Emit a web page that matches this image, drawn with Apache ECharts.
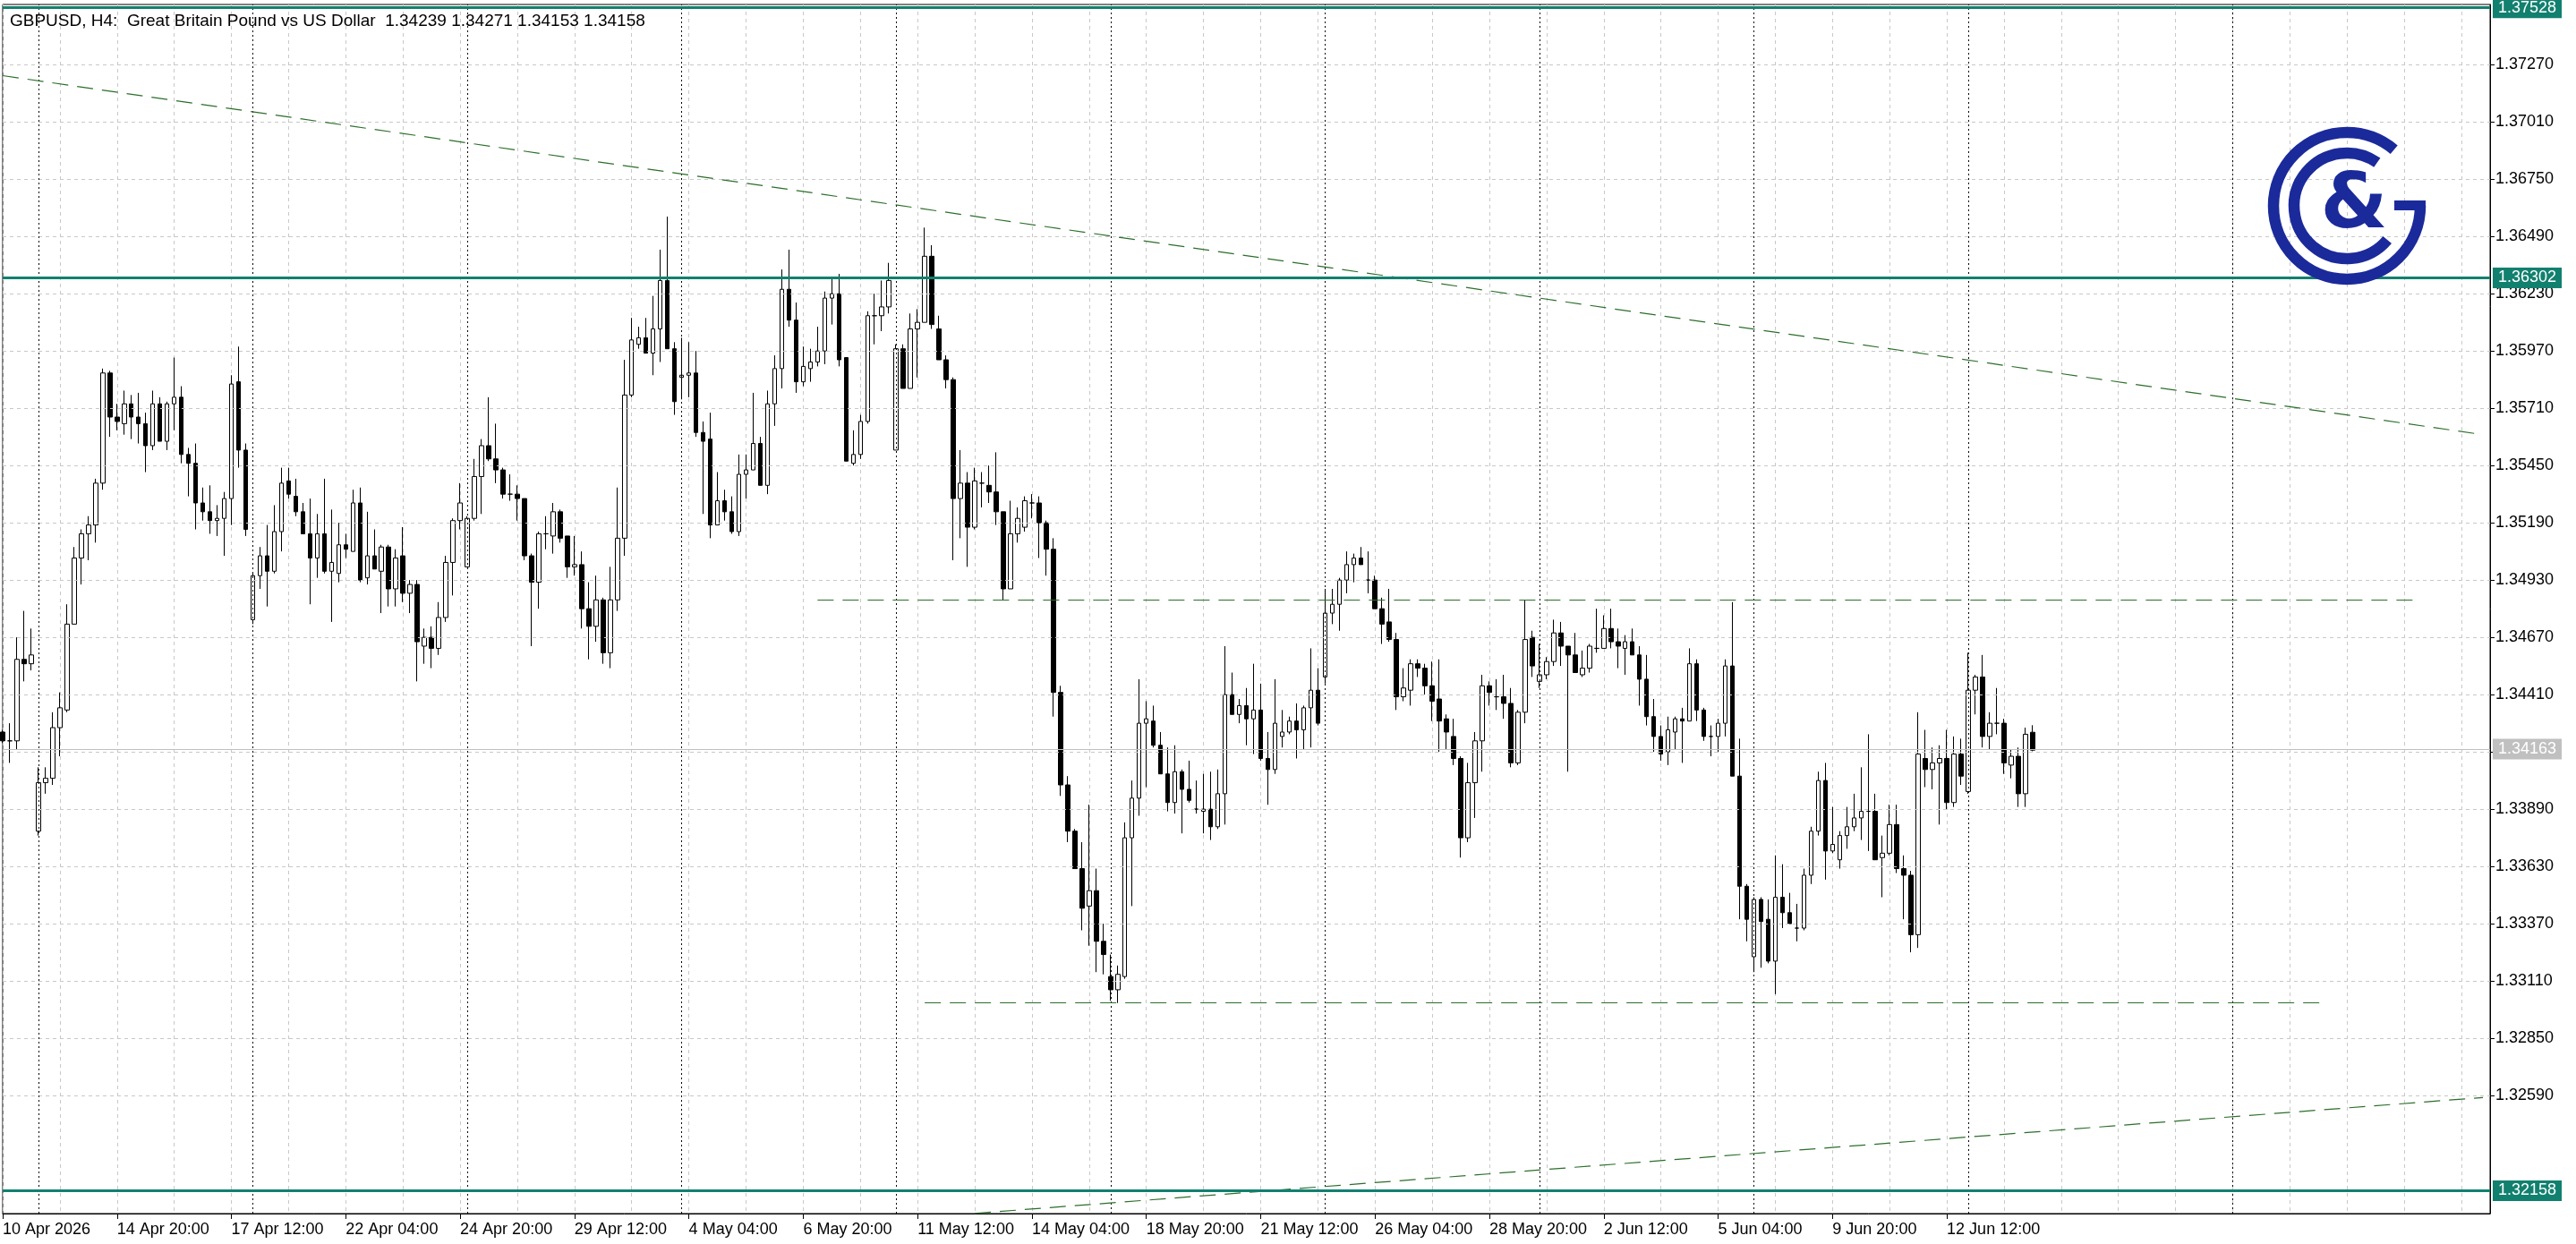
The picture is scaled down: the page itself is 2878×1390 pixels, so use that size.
<!DOCTYPE html>
<html><head><meta charset="utf-8">
<script src="https://cdn.jsdelivr.net/npm/echarts@6/dist/echarts.min.js"></script>
<style>html,body{margin:0;padding:0;background:#fff}#c{width:2878px;height:1390px}</style>
</head><body><div id="c"></div>
<script>
const titleText = 'GBPUSD, H4:  Great Britain Pound vs US Dollar  1.34239 1.34271 1.34153 1.34158';
const tickLabels = ['10 Apr 2026','14 Apr 20:00','17 Apr 12:00','22 Apr 04:00','24 Apr 20:00','29 Apr 12:00','4 May 04:00','6 May 20:00','11 May 12:00','14 May 04:00','18 May 20:00','21 May 12:00','26 May 04:00','28 May 20:00','2 Jun 12:00','5 Jun 04:00','9 Jun 20:00','12 Jun 12:00'];
const priceTicks = [1.32590,1.32850,1.33110,1.33370,1.33630,1.33890,1.34150,1.34410,1.34670,1.34930,1.35190,1.35450,1.35710,1.35970,1.36230,1.36490,1.36750,1.37010,1.37270];
const levels = [1.37528, 1.36302, 1.32158];
const currentPrice = 1.34163;
const weekStarts = [5,35,65,95,125,155,185,215,245,275,312];
const barSlots = 349;

const opens = [1.3424,1.3420,1.3420,1.3457,1.3455,1.3379,1.3401,1.3403,1.3426,1.3434,
1.3473,1.3503,1.3514,1.3518,1.3537,1.3587,1.3567,1.3564,1.3573,1.3567,
1.3564,1.3554,1.3573,1.3556,1.3573,1.3576,1.3550,1.3546,1.3528,1.3524,
1.3520,1.3521,1.3530,1.3583,1.3552,1.3475,1.3495,1.3504,1.3497,1.3515,
1.3538,1.3531,1.3524,1.3514,1.3503,1.3514,1.3497,1.3496,1.3509,1.3506,
1.3528,1.3494,1.3504,1.3497,1.3508,1.3489,1.3504,1.3487,1.3491,1.3463,
1.3467,1.3462,1.3476,1.3501,1.3520,1.3499,1.3521,1.3540,1.3554,1.3548,
1.3543,1.3532,1.3532,1.3530,1.3504,1.3492,1.3514,1.3513,1.3524,1.3513,
1.3499,1.3500,1.3480,1.3472,1.3484,1.3460,1.3484,1.3512,1.3577,1.3600,
1.3603,1.3596,1.3607,1.3629,1.3598,1.3585,1.3586,1.3587,1.3560,1.3557,
1.3518,1.3529,1.3524,1.3515,1.3541,1.3543,1.3555,1.3536,1.3573,1.3589,
1.3625,1.3611,1.3583,1.3589,1.3592,1.3597,1.3621,1.3623,1.3594,1.3546,
1.3550,1.3565,1.3613,1.3613,1.3617,1.3552,1.3598,1.3580,1.3607,1.3610,
1.3640,1.3607,1.3593,1.3584,1.3530,1.3537,1.3517,1.3537,1.3536,1.3533,
1.3524,1.3489,1.3514,1.3517,1.3528,1.3528,1.3519,1.3507,1.3442,1.3400,
1.3379,1.3362,1.3345,1.3352,1.3329,1.3313,1.3307,1.3313,1.3376,1.3394,
1.3428,1.3429,1.3418,1.3405,1.3392,1.3406,1.3398,1.3389,1.3388,1.3389,
1.3381,1.3396,1.3441,1.3432,1.3436,1.3430,1.3434,1.3412,1.3407,1.3422,
1.3424,1.3429,1.3425,1.3435,1.3443,1.3449,1.3478,1.3482,1.3493,1.3500,
1.3503,1.3493,1.3493,1.3480,1.3474,1.3466,1.3440,1.3443,1.3455,1.3453,
1.3445,1.3439,1.3430,1.3422,1.3412,1.3376,1.3401,1.3420,1.3445,1.3440,
1.3440,1.3437,1.3410,1.3433,1.3467,1.3447,1.3450,1.3456,1.3469,1.3463,
1.3459,1.3450,1.3453,1.3462,1.3462,1.3471,1.3465,1.3462,1.3465,1.3459,
1.3448,1.3431,1.3422,1.3415,1.3424,1.3430,1.3429,1.3455,1.3434,1.3422,
1.3422,1.3428,1.3454,1.3404,1.3354,1.3322,1.3348,1.3339,1.3320,1.3349,
1.3342,1.3335,1.3335,1.3359,1.3379,1.3402,1.3370,1.3366,1.3377,1.3381,
1.3385,1.3388,1.3388,1.3367,1.3369,1.3382,1.3362,1.3359,1.3332,1.3412,
1.3407,1.3410,1.3412,1.3392,1.3414,1.3397,1.3443,1.3449,1.3422,1.3428,
1.3428,1.3409,1.3413,1.3396,1.34239];

const closes = [1.3420,1.3420,1.3457,1.3455,1.3459,1.3401,1.3403,1.3426,1.3435,1.3473,
1.3503,1.3514,1.3518,1.3537,1.3587,1.3567,1.3565,1.3573,1.3567,1.3564,
1.3554,1.3573,1.3556,1.3573,1.3576,1.3550,1.3546,1.3528,1.3524,1.3520,
1.3521,1.3530,1.3582,1.3552,1.3516,1.3495,1.3504,1.3497,1.3515,1.3537,
1.3532,1.3524,1.3514,1.3503,1.3514,1.3497,1.3501,1.3509,1.3507,1.3528,
1.3493,1.3504,1.3498,1.3508,1.3489,1.3503,1.3487,1.3491,1.3465,1.3467,
1.3462,1.3476,1.3501,1.3520,1.3528,1.3521,1.3540,1.3554,1.3548,1.3543,
1.3532,1.3532,1.3530,1.3504,1.3492,1.3514,1.3514,1.3524,1.3512,1.3499,
1.3500,1.3480,1.3472,1.3484,1.3460,1.3484,1.3512,1.3577,1.3602,1.3603,
1.3596,1.3607,1.3629,1.3598,1.3574,1.3586,1.3587,1.3560,1.3556,1.3518,
1.3529,1.3524,1.3515,1.3541,1.3543,1.3555,1.3536,1.3573,1.3589,1.3625,
1.3611,1.3583,1.3590,1.3592,1.3597,1.3621,1.3623,1.3593,1.3547,1.3550,
1.3565,1.3613,1.3613,1.3617,1.3629,1.3598,1.3580,1.3607,1.3610,1.3640,
1.3609,1.3593,1.3584,1.3530,1.3537,1.3517,1.3538,1.3537,1.3533,1.3524,
1.3489,1.3514,1.3521,1.3529,1.3528,1.3519,1.3507,1.3442,1.3400,1.3379,
1.3362,1.3344,1.3352,1.3329,1.3323,1.3307,1.3314,1.3376,1.3394,1.3428,
1.3430,1.3418,1.3405,1.3392,1.3406,1.3398,1.3393,1.3389,1.3389,1.3381,
1.3396,1.3441,1.3432,1.3436,1.3430,1.3434,1.3412,1.3407,1.3428,1.3424,
1.3429,1.3425,1.3435,1.3443,1.3428,1.3478,1.3482,1.3493,1.3500,1.3503,
1.3500,1.3493,1.3480,1.3473,1.3466,1.3440,1.3444,1.3455,1.3453,1.3445,
1.3438,1.3429,1.3424,1.3412,1.3376,1.3401,1.3420,1.3445,1.3442,1.3440,
1.3437,1.3410,1.3433,1.3466,1.3454,1.3450,1.3456,1.3469,1.3463,1.3459,
1.3451,1.3453,1.3463,1.3462,1.3471,1.3465,1.3463,1.3465,1.3459,1.3448,
1.3431,1.3422,1.3414,1.3425,1.3430,1.3429,1.3455,1.3434,1.3422,1.3422,
1.3428,1.3454,1.3404,1.3354,1.3339,1.3348,1.3338,1.3320,1.3349,1.3342,
1.3337,1.3335,1.3359,1.3379,1.3402,1.3370,1.3373,1.3377,1.3381,1.3385,
1.3388,1.3388,1.3366,1.3369,1.3382,1.3362,1.3359,1.3332,1.3414,1.3407,
1.3410,1.3412,1.3392,1.3414,1.3404,1.3443,1.3449,1.3422,1.3428,1.3428,
1.3410,1.3413,1.3396,1.3423,1.34158];

const lows = [1.3419,1.3410,1.3416,1.3447,1.3452,1.3377,1.3396,1.3400,1.3413,1.3433,
1.3473,1.3491,1.3502,1.3510,1.3534,1.3558,1.3561,1.3559,1.3557,1.3555,
1.3542,1.3552,1.3556,1.3552,1.3561,1.3546,1.3531,1.3516,1.3520,1.3514,
1.3513,1.3504,1.3518,1.3544,1.3513,1.3473,1.3489,1.3481,1.3496,1.3506,
1.3530,1.3522,1.3514,1.3482,1.3494,1.3496,1.3474,1.3492,1.3503,1.3506,
1.3492,1.3491,1.3498,1.3478,1.3481,1.3481,1.3483,1.3478,1.3447,1.3455,
1.3453,1.3459,1.3474,1.3486,1.3516,1.3499,1.3520,1.3523,1.3547,1.3537,
1.3530,1.3529,1.3520,1.3502,1.3463,1.3480,1.3507,1.3505,1.3510,1.3494,
1.3495,1.3471,1.3457,1.3465,1.3455,1.3453,1.3479,1.3504,1.3576,1.3598,
1.3596,1.3586,1.3592,1.3598,1.3568,1.3575,1.3576,1.3558,1.3523,1.3512,
1.3518,1.3520,1.3514,1.3513,1.3530,1.3543,1.3536,1.3532,1.3563,1.3580,
1.3608,1.3578,1.3581,1.3583,1.3590,1.3591,1.3609,1.3590,1.3547,1.3545,
1.3548,1.3564,1.3600,1.3606,1.3614,1.3552,1.3580,1.3580,1.3585,1.3610,
1.3607,1.3593,1.3580,1.3502,1.3512,1.3499,1.3516,1.3526,1.3528,1.3518,
1.3484,1.3489,1.3510,1.3515,1.3521,1.3503,1.3495,1.3431,1.3395,1.3374,
1.3362,1.3334,1.3327,1.3315,1.3314,1.3302,1.3301,1.3312,1.3345,1.3386,
1.3399,1.3417,1.3405,1.3388,1.3387,1.3378,1.3392,1.3387,1.3378,1.3375,
1.3380,1.3382,1.3432,1.3428,1.3418,1.3414,1.3411,1.3391,1.3405,1.3417,
1.3423,1.3412,1.3416,1.3417,1.3427,1.3446,1.3473,1.3470,1.3487,1.3492,
1.3500,1.3487,1.3480,1.3464,1.3465,1.3434,1.3438,1.3436,1.3449,1.3441,
1.3429,1.3415,1.3416,1.3409,1.3367,1.3374,1.3385,1.3406,1.3436,1.3434,
1.3430,1.3408,1.3409,1.3428,1.3449,1.3444,1.3448,1.3454,1.3454,1.3406,
1.3451,1.3449,1.3451,1.3460,1.3462,1.3462,1.3453,1.3450,1.3459,1.3436,
1.3427,1.3415,1.3411,1.3409,1.3416,1.3410,1.3429,1.3429,1.3420,1.3413,
1.3415,1.3422,1.3404,1.3339,1.3329,1.3315,1.3317,1.3319,1.3305,1.3335,
1.3337,1.3329,1.3334,1.3355,1.3377,1.3357,1.3369,1.3362,1.3371,1.3379,
1.3375,1.3370,1.3366,1.3349,1.3368,1.3360,1.3339,1.3324,1.3326,1.3399,
1.3398,1.3382,1.3389,1.3390,1.3400,1.3396,1.3432,1.3417,1.3416,1.3423,
1.3405,1.3403,1.3390,1.3390,1.34153];

const highs = [1.3425,1.3428,1.3467,1.3479,1.3471,1.3408,1.3408,1.3433,1.3442,1.3482,
1.3508,1.3516,1.3522,1.3539,1.3589,1.3588,1.3573,1.3579,1.3577,1.3578,
1.3569,1.3579,1.3576,1.3574,1.3594,1.3581,1.3553,1.3555,1.3535,1.3536,
1.3527,1.3533,1.3586,1.3599,1.3555,1.3496,1.3508,1.3518,1.3527,1.3544,
1.3544,1.3539,1.3528,1.3530,1.3523,1.3539,1.3525,1.3519,1.3514,1.3534,
1.3535,1.3524,1.3516,1.3509,1.3509,1.3507,1.3517,1.3493,1.3493,1.3471,
1.3472,1.3483,1.3504,1.3521,1.3537,1.3522,1.3548,1.3557,1.3576,1.3564,
1.3544,1.3541,1.3536,1.3530,1.3505,1.3515,1.3522,1.3528,1.3525,1.3513,
1.3513,1.3506,1.3492,1.3495,1.3485,1.3499,1.3535,1.3593,1.3612,1.3608,
1.3612,1.3622,1.3643,1.3658,1.3601,1.3603,1.3601,1.3597,1.3565,1.3569,
1.3542,1.3534,1.3531,1.3550,1.3550,1.3578,1.3558,1.3579,1.3595,1.3634,
1.3643,1.3619,1.3599,1.3598,1.3608,1.3624,1.3630,1.3632,1.3594,1.3561,
1.3568,1.3615,1.3623,1.3629,1.3637,1.3600,1.3600,1.3614,1.3616,1.3653,
1.3645,1.3613,1.3595,1.3585,1.3552,1.3542,1.3544,1.3542,1.3545,1.3551,
1.3524,1.3529,1.3526,1.3531,1.3532,1.3531,1.3520,1.3512,1.3445,1.3404,
1.3380,1.3374,1.3391,1.3362,1.3337,1.3323,1.3318,1.3383,1.3402,1.3448,
1.3438,1.3436,1.3424,1.3417,1.3418,1.3407,1.3411,1.3402,1.3405,1.3406,
1.3407,1.3463,1.3451,1.3439,1.3444,1.3455,1.3446,1.3424,1.3448,1.3434,
1.3431,1.3437,1.3436,1.3462,1.3453,1.3489,1.3489,1.3494,1.3506,1.3505,
1.3508,1.3506,1.3495,1.3485,1.3489,1.3469,1.3453,1.3457,1.3457,1.3455,
1.3456,1.3457,1.3432,1.3430,1.3413,1.3410,1.3424,1.3450,1.3447,1.3448,
1.3450,1.3444,1.3434,1.3484,1.3470,1.3464,1.3458,1.3475,1.3474,1.3463,
1.3469,1.3461,1.3464,1.3480,1.3477,1.3480,1.3471,1.3468,1.3471,1.3463,
1.3459,1.3439,1.3427,1.3431,1.3431,1.3435,1.3462,1.3457,1.3435,1.3427,
1.3430,1.3457,1.3483,1.3421,1.3355,1.3349,1.3349,1.3348,1.3368,1.3364,
1.3351,1.3346,1.3362,1.3381,1.3406,1.3410,1.3390,1.3379,1.3390,1.3396,
1.3408,1.3423,1.3396,1.3377,1.3391,1.3391,1.3368,1.3361,1.3433,1.3425,
1.3417,1.3418,1.3425,1.3422,1.3421,1.3460,1.3450,1.3459,1.3433,1.3444,
1.3430,1.3416,1.3417,1.3426,1.34271];

const trendDown = [[0, 1.3722], [347, 1.3559]];
const trendUp = [[136, 1.32055], [347, 1.32581]];
const resistDash = [[114, 1.3484], [338, 1.3484]];
const supportDash = [[129, 1.3301], [325, 1.3301]];

const FONT = 'Liberation Sans';
const TEAL = '#12806f';
const GREEN = '#2c6e2c';
const NAVY = '#1b2a9a';

const cats = [];
for (let i = 0; i < barSlots; i++) cats.push(String(i));
const ohlc = opens.map((o, i) => [o, closes[i], lows[i], highs[i]]);

const chart = echarts.init(document.getElementById('c'), null, {renderer: 'canvas'});

const seg = (pts) => [{coord: pts[0]}, {coord: pts[1]}];
const dashStyle = {color: GREEN, width: 1.2, type: [18, 10]};

function levelSeries(v, gray, z) {
  const col = gray ? '#c0c0c0' : TEAL;
  return {
    type: 'line', data: [], silent: true, z: z,
    markLine: {silent: true, symbol: 'none', animation: false,
      lineStyle: {color: col, width: gray ? 1 : 3, type: 'solid'},
      label: {show: true, position: 'end', formatter: v.toFixed(5), color: '#fff',
        backgroundColor: col, padding: [3, 6, 2, 6], fontSize: 18, fontFamily: FONT, distance: 3},
      data: [[{coord: [0, v]}, {coord: [barSlots - 1, v]}]]}
  };
}

chart.setOption({
  animation: false,
  backgroundColor: '#fff',
  title: {text: titleText, left: 6, top: 9,
    textStyle: {fontSize: 19, fontWeight: 'normal', color: '#000', fontFamily: FONT}},
  grid: {left: 0, right: 96, top: 5, bottom: 34, show: true, borderColor: '#000', borderWidth: 1, backgroundColor: 'transparent'},
  xAxis: {
    type: 'category', data: cats, boundaryGap: false,
    axisLine: {show: true, lineStyle: {color: '#000', width: 1}},
    axisTick: {show: true, interval: (i) => i % 16 === 0 && i <= 272, length: 6, lineStyle: {color: '#000'}},
    axisLabel: {interval: (i) => i % 16 === 0 && i <= 272, formatter: (v, idx) => tickLabels[Math.round(idx / 16)] || '',
      align: 'left', fontSize: 18, color: '#000', fontFamily: FONT, margin: 9},
    splitLine: {show: true, interval: (i) => i % 8 === 0, lineStyle: {color: '#c8c8c8', type: [4, 4], width: 1}}
  },
  yAxis: {
    type: 'value', position: 'right', min: 1.32054, max: 1.37543, scale: true,
    axisLine: {show: true, lineStyle: {color: '#000'}},
    axisTick: {show: true, customValues: priceTicks, length: 5, lineStyle: {color: '#000'}},
    axisLabel: {customValues: priceTicks, formatter: (v) => v.toFixed(5), fontSize: 18, color: '#000', fontFamily: FONT, margin: 6},
    splitLine: {show: false}
  },
  series: [
    {
      type: 'line', data: [], silent: true,
      markLine: {silent: true, symbol: 'none', animation: false,
        lineStyle: {color: '#c8c8c8', type: [4, 4], width: 1}, label: {show: false},
        data: priceTicks.map(v => [{coord: [0, v]}, {coord: [barSlots - 1, v]}])}
    },
    {
      type: 'line', data: [], silent: true,
      markLine: {silent: true, symbol: 'none', animation: false,
        lineStyle: {color: '#000', type: [2, 3], width: 1}, label: {show: false},
        data: weekStarts.map(i => ({xAxis: i}))}
    },
    {
      type: 'line', data: [], silent: true, z: 1,
      markLine: {silent: true, symbol: 'none', animation: false, label: {show: false},
        lineStyle: dashStyle,
        data: [seg(trendDown), seg(trendUp), seg(resistDash), seg(supportDash)]}
    },
    levelSeries(currentPrice, true, 3),
    {
      type: 'candlestick', data: ohlc, barWidth: 5, z: 4,
      itemStyle: {color: '#ffffff', color0: '#000000', borderColor: '#000000', borderColor0: '#000000', borderWidth: 1}
    },
    levelSeries(levels[0], false, 5),
    levelSeries(levels[1], false, 5),
    levelSeries(levels[2], false, 5)
  ],
  graphic: [
    {type: 'arc', z: 10, shape: {cx: 2622, cy: 230, r: 82, startAngle: 0, endAngle: 310 * Math.PI / 180, clockwise: true},
      style: {stroke: NAVY, lineWidth: 12.5, fill: 'none'}},
    {type: 'rect', z: 10, shape: {x: 2675, y: 224, width: 35, height: 11}, style: {fill: NAVY}},
    {type: 'arc', z: 10, shape: {cx: 2622, cy: 230, r: 59, startAngle: 40 * Math.PI / 180, endAngle: 305 * Math.PI / 180, clockwise: true},
      style: {stroke: NAVY, lineWidth: 12.5, fill: 'none'}},
    {type: 'text', z: 10, x: 2630, y: 232, style: {text: '&', fill: NAVY, fontSize: 86, fontWeight: 'bold', fontFamily: 'DejaVu Sans', align: 'center', verticalAlign: 'middle'}}
  ]
});
</script></body></html>
